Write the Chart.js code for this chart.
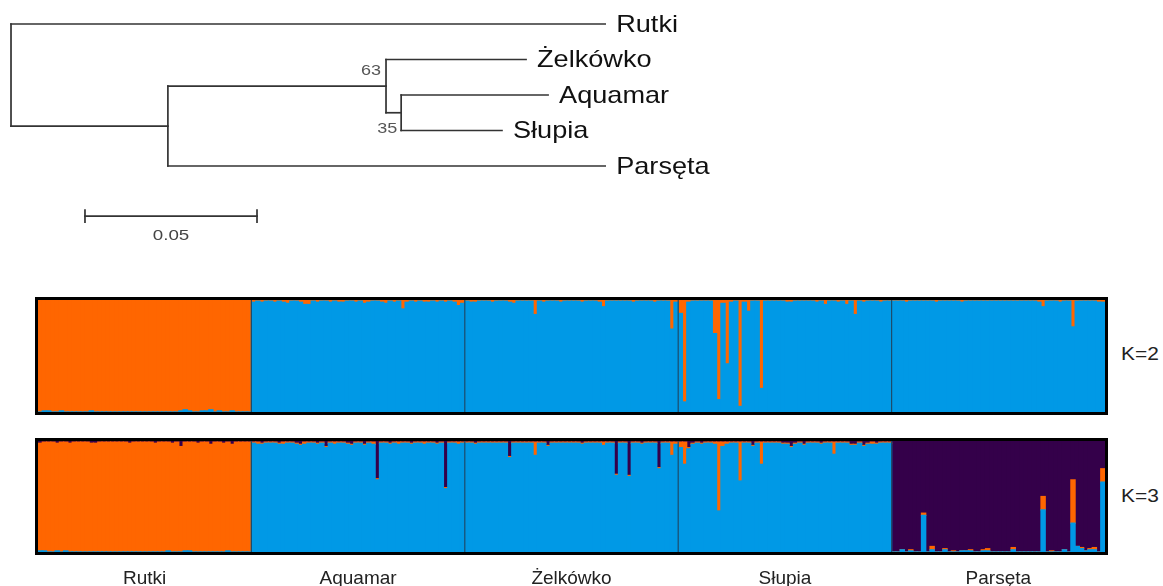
<!DOCTYPE html>
<html>
<head>
<meta charset="utf-8">
<script src="https://cdn.jsdelivr.net/npm/chart.js@4.4.1/dist/chart.umd.min.js"></script>
<style>
  html, body { margin: 0; padding: 0; background: #fff; }
  body { width: 1163px; height: 586px; position: relative; overflow: hidden;
         font-family: "Liberation Sans", Arial, sans-serif; }
  .box { position: absolute; }
  .k { position: absolute; font-size: 19px; color: #222; transform: scaleX(1.1); transform-origin: left center; }
</style>
</head>
<body>
<div class="box" style="left:0;top:0;width:760px;height:260px"><canvas id="tree"></canvas></div>
<div class="box" style="left:34px;top:296px;width:1075px;height:120px"><canvas id="k2"></canvas></div>
<div class="box" style="left:34px;top:437px;width:1075px;height:149px"><canvas id="k3"></canvas></div>
<div class="k" style="left:1121px;top:343px">K=2</div>
<div class="k" style="left:1121px;top:485px">K=3</div>

<script>
// ---- tree (distances from the root) ----
const taxa = ["Rutki", "Żelkówko", "Aquamar", "Słupia", "Parsęta"];
const tipRow = [1, 2, 3, 4, 5];
const tipDepth = [0.1727, 0.1497, 0.1561, 0.1427, 0.1727];
// root, (63,Parsęta), (Żelkówko,35), (Aquamar,Słupia)
const nodeDepth = [0, 0.0456, 0.1090, 0.1134];
const bootstrap = [63, 35];
const scaleBar = 0.05;

// ---- STRUCTURE memberships, 50 individuals per population ----
const pops = ["Rutki", "Aquamar", "Żelkówko", "Słupia", "Parsęta"];

// K=2 : orange cluster share (rest = blue)
const k2OrangeRutki = [1,0.99,0.99,1,1,0.99,1,1,1,1, 1,1,0.99,1,1,1,1,1,1,1, 1,1,1,1,1,1,1,1,1,1, 1,1,1,0.99,0.98,0.99,1,1,0.99,0.99, 0.98,1,0.99,1,1,0.99,1,1,1,1];
const k2OrangeAquamar = [0.02,0.01,0.02,0.01,0.01,0.02,0.01,0.02,0.03,0.01, 0.01,0.02,0.04,0.04,0.01,0.02,0.01,0.01,0.02,0.01, 0.02,0.02,0.01,0.01,0.02,0.01,0.03,0.02,0.01,0.01, 0.02,0.03,0.01,0.02,0.01,0.08,0.02,0.01,0.02,0.01, 0.02,0.02,0.01,0.02,0.01,0.02,0.01,0.02,0.05,0.03];
const k2OrangeZelkowko = [0.01,0.02,0.02,0.01,0.01,0.01,0.02,0.01,0.01,0.01, 0.02,0.03,0.01,0.01,0.01,0.01,0.13,0.01,0.02,0.01, 0.01,0.01,0.02,0.01,0.01,0.01,0.01,0.02,0.01,0.01, 0.01,0.02,0.06,0.01,0.01,0.01,0.01,0.01,0.01,0.02, 0.01,0.01,0.01,0.01,0.02,0.01,0.01,0.01,0.26,0.02];
const k2OrangeSlupia = [0.12,0.91,0.02,0.01,0.01,0.01,0.01,0.01,0.30,0.89, 0.03,0.57,0.02,0.01,0.95,0.02,0.10,0.01,0.01,0.79, 0.01,0.01,0.01,0.01,0.01,0.02,0.02,0.01,0.01,0.01, 0.01,0.01,0.02,0.01,0.04,0.01,0.01,0.02,0.01,0.04, 0.01,0.13,0.01,0.02,0.01,0.01,0.01,0.02,0.01,0.01];
const k2OrangeParseta = [0.01,0.01,0.01,0.02,0.01,0.01,0.01,0.01,0.01,0.01, 0.02,0.01,0.01,0.01,0.01,0.01,0.02,0.01,0.01,0.01, 0.01,0.01,0.01,0.01,0.01,0.01,0.01,0.01,0.01,0.01, 0.01,0.01,0.01,0.01,0.02,0.06,0.01,0.01,0.01,0.02, 0.01,0.01,0.24,0.01,0.01,0.01,0.01,0.01,0.02,0.02];

// K=3 : orange and dark purple shares (rest = blue)
const k3OrangeRutki = [0.97,0.98,0.99,0.99,0.97,0.99,0.98,0.98,0.99,0.99, 0.99,0.99,0.98,0.98,0.99,0.99,0.99,0.99,0.99,0.99, 0.99,0.98,0.99,0.99,0.99,0.99,0.99,0.98,0.99,0.99, 0.98,0.98,0.99,0.95,0.98,0.98,0.99,0.98,0.99,0.99, 0.97,0.99,0.99,0.98,0.98,0.97,0.99,0.99,0.99,0.99];
const k3PurpleRutki = [0.02,0.01,0.01,0.01,0.02,0.01,0.01,0.02,0.01,0.01, 0.01,0.01,0.02,0.02,0.01,0.01,0.01,0.01,0.01,0.01, 0.01,0.02,0.01,0.01,0.01,0.01,0.01,0.02,0.01,0.01, 0.01,0.02,0.01,0.05,0.01,0.01,0.01,0.02,0.01,0.01, 0.03,0.01,0.01,0.02,0.01,0.03,0.01,0.01,0.01,0.01];
const k3OrangeAquamar = [0.01,0.02,0.01,0.01,0.01,0.01,0.01,0.02,0.01,0.01, 0.01,0.01,0.02,0.01,0.01,0.01,0.01,0.01,0.01,0.02, 0.01,0.01,0.01,0.01,0.01,0.01,0.01,0.01,0.02,0.01, 0.01,0.01,0.01,0.01,0.02,0.01,0.01,0.01,0.01,0.01, 0.02,0.01,0.01,0.01,0.01,0.01,0.01,0.01,0.02,0.01];
const k3PurpleAquamar = [0.01,0.01,0.02,0.01,0.01,0.01,0.02,0.01,0.01,0.01, 0.02,0.03,0.01,0.01,0.01,0.02,0.01,0.05,0.01,0.01, 0.01,0.01,0.02,0.03,0.01,0.01,0.03,0.01,0.01,0.34, 0.01,0.01,0.02,0.01,0.01,0.01,0.01,0.02,0.01,0.01, 0.01,0.01,0.01,0.02,0.01,0.42,0.01,0.01,0.01,0.01];
const k3OrangeZelkowko = [0.01,0.01,0.01,0.01,0.01,0.01,0.01,0.01,0.01,0.01, 0.01,0.01,0.01,0.01,0.01,0.01,0.12,0.01,0.01,0.01, 0.01,0.01,0.01,0.01,0.01,0.01,0.01,0.01,0.01,0.01, 0.01,0.01,0.03,0.01,0.01,0.01,0.01,0.01,0.01,0.01, 0.01,0.01,0.01,0.01,0.01,0.01,0.01,0.01,0.12,0.02];
const k3PurpleZelkowko = [0.01,0.01,0.02,0.01,0.01,0.01,0.01,0.01,0.01,0.01, 0.14,0.01,0.01,0.01,0.01,0.01,0.01,0.01,0.01,0.04, 0.01,0.01,0.01,0.01,0.01,0.01,0.01,0.02,0.01,0.01, 0.01,0.01,0.01,0.01,0.01,0.30,0.01,0.01,0.31,0.01, 0.01,0.02,0.01,0.01,0.01,0.24,0.01,0.01,0.01,0.01];
const k3OrangeSlupia = [0.05,0.20,0.01,0.01,0.01,0.01,0.01,0.01,0.02,0.62, 0.04,0.02,0.01,0.01,0.35,0.01,0.01,0.01,0.01,0.20, 0.01,0.01,0.01,0.01,0.01,0.01,0.01,0.01,0.01,0.01, 0.01,0.01,0.01,0.01,0.01,0.01,0.11,0.01,0.01,0.01, 0.01,0.01,0.01,0.01,0.01,0.02,0.01,0.01,0.01,0.01];
const k3PurpleSlupia = [0.01,0.01,0.06,0.02,0.01,0.02,0.01,0.01,0.01,0.01, 0.01,0.01,0.01,0.01,0.01,0.01,0.01,0.04,0.01,0.01, 0.01,0.01,0.01,0.01,0.02,0.02,0.05,0.02,0.01,0.03, 0.01,0.01,0.01,0.02,0.01,0.01,0.01,0.01,0.01,0.01, 0.03,0.03,0.01,0.04,0.02,0.01,0.02,0.01,0.01,0.01];
const k3OrangeParseta = [0,0,0,0,0.01,0,0,0.02,0,0.03, 0,0,0.01,0,0.01,0,0,0,0.01,0, 0,0.01,0.02,0,0,0,0,0,0.02,0, 0,0,0,0,0,0.12,0,0.01,0,0, 0,0,0.39,0,0.01,0,0.01,0.02,0,0.12];
const k3PurpleParseta = [1,1,0.98,1,0.98,1,1,0.65,1,0.95, 1,1,0.97,1,0.99,1,0.99,0.99,0.98,1, 1,0.98,0.97,1,1,1,1,1,0.96,1, 1,1,1,1,1,0.50,1,0.99,1,1, 0.98,1,0.35,0.95,0.96,0.99,0.97,0.96,1,0.25];

const ORANGE = "#ff6600", BLUE = "#0099e6", PURPLE = "#34004a";
const FONT = "'Liberation Sans', Arial, sans-serif";

// ---------- tree ----------
const nodeRow = [];
nodeRow[3] = (tipRow[2] + tipRow[3]) / 2;
nodeRow[2] = (tipRow[1] + nodeRow[3]) / 2;
nodeRow[1] = (nodeRow[2] + tipRow[4]) / 2;
nodeRow[0] = (tipRow[0] + nodeRow[1]) / 2;

// each internal node: [child, child], child is ["t", i] for a tip or ["n", i]
const kids = [
  [["t", 0], ["n", 1]],
  [["n", 2], ["t", 4]],
  [["t", 1], ["n", 3]],
  [["t", 2], ["t", 3]]
];
const segs = [];
kids.forEach((pair, n) => {
  const d = nodeDepth[n];
  const pos = pair.map(([k, i]) => k === "t" ? [tipDepth[i], tipRow[i]] : [nodeDepth[i], nodeRow[i]]);
  segs.push([{ x: d, y: pos[0][1] }, { x: d, y: pos[1][1] }]);
  pos.forEach(p => segs.push([{ x: d, y: p[1] }, { x: p[0], y: p[1] }]));
});
const sbStart = 0.0215, sbRow = 6.41;
segs.push([{ x: sbStart, y: sbRow }, { x: sbStart + scaleBar, y: sbRow }]);
segs.push([{ x: sbStart, y: sbRow - 0.17 }, { x: sbStart, y: sbRow + 0.17 }]);
segs.push([{ x: sbStart + scaleBar, y: sbRow - 0.17 }, { x: sbStart + scaleBar, y: sbRow + 0.17 }]);

// text drawn a little wider, like the original figure
function wideText(ctx, s, px, py, sx) {
  ctx.save();
  ctx.translate(px, py);
  ctx.scale(sx, 1);
  ctx.fillText(s, 0, 0);
  ctx.restore();
}

const treeLabels = {
  id: "treeLabels",
  afterDatasetsDraw(chart) {
    const { ctx, scales: { x, y } } = chart;
    ctx.save();
    ctx.textBaseline = "middle";
    ctx.fillStyle = "#111";
    ctx.font = "24px " + FONT;
    taxa.forEach((t, i) => {
      wideText(ctx, t, x.getPixelForValue(tipDepth[i]) + 11, y.getPixelForValue(tipRow[i]) + 1, 1.13);
    });
    ctx.fillStyle = "#555";
    ctx.font = "15px " + FONT;
    ctx.textAlign = "right";
    wideText(ctx, String(bootstrap[0]), x.getPixelForValue(nodeDepth[2]) - 5, y.getPixelForValue(tipRow[1]) + 11, 1.2);
    wideText(ctx, String(bootstrap[1]), x.getPixelForValue(nodeDepth[3]) - 4, y.getPixelForValue(tipRow[3]) - 2, 1.2);
    ctx.textAlign = "center";
    ctx.fillStyle = "#444";
    wideText(ctx, String(scaleBar), x.getPixelForValue(sbStart + scaleBar / 2), y.getPixelForValue(sbRow) + 20, 1.25);
    ctx.restore();
  }
};

new Chart(document.getElementById("tree"), {
  type: "scatter",
  data: {
    datasets: segs.map(s => ({
      data: s, showLine: true, borderColor: "#333", borderWidth: 1.7,
      pointRadius: 0, borderCapStyle: "square"
    }))
  },
  options: {
    responsive: true, maintainAspectRatio: false, animation: false,
    layout: { padding: 0 },
    plugins: { legend: { display: false }, tooltip: { enabled: false } },
    scales: {
      x: { type: "linear", display: false, min: -0.0032, max: 0.2177 },
      y: { type: "linear", display: false, reverse: true, min: 0.324, max: 7.648 }
    }
  },
  plugins: [treeLabels]
});

// ---------- STRUCTURE bars ----------
const popSizes = [50, 50, 50, 50, 50];
const idx = [].concat(...popSizes.map((n, p) => Array.from({ length: n }, (_, i) => pops[p] + " " + (i + 1))));
const breaks = [];
popSizes.reduce((acc, n) => { acc += n; breaks.push(acc); return acc; }, 0);
breaks.pop();

const framePlugin = {
  id: "frame",
  afterDatasetsDraw(chart) {
    const { ctx, chartArea: a, scales: { x } } = chart;
    ctx.save();
    ctx.strokeStyle = "#1c4c6c";
    ctx.lineWidth = 1.2;
    breaks.forEach(b => {
      const px = (x.getPixelForValue(b - 1) + x.getPixelForValue(b)) / 2;
      ctx.beginPath();
      ctx.moveTo(px, a.top);
      ctx.lineTo(px, a.bottom);
      ctx.stroke();
    });
    ctx.strokeStyle = "#000";
    ctx.lineWidth = 3;
    ctx.strokeRect(a.left - 1.5, a.top - 1.5, a.right - a.left + 3, a.bottom - a.top + 3);
    ctx.restore();
  }
};

function barSet(values, color) {
  return { data: values, backgroundColor: color, borderWidth: 0,
           barPercentage: 1, categoryPercentage: 1, inflateAmount: 0.6 };
}

const k2Orange = [].concat(k2OrangeRutki, k2OrangeAquamar, k2OrangeZelkowko, k2OrangeSlupia, k2OrangeParseta);
const k3Orange = [].concat(k3OrangeRutki, k3OrangeAquamar, k3OrangeZelkowko, k3OrangeSlupia, k3OrangeParseta);
const k3Purple = [].concat(k3PurpleRutki, k3PurpleAquamar, k3PurpleZelkowko, k3PurpleSlupia, k3PurpleParseta);

function structureChart(id, datasets, withLabels) {
  const scales = {
    x: { stacked: true, display: false },
    y: { stacked: true, display: false, min: 0, max: 1 }
  };
  if (withLabels) {
    scales.x2 = {
      type: "category", labels: pops, position: "bottom", offset: true,
      grid: { display: false, drawTicks: false }, border: { display: false },
      ticks: { color: "#222", padding: 15, font: { size: 19, family: FONT } },
      afterFit: s => { s.height = 34; }
    };
  }
  new Chart(document.getElementById(id), {
    type: "bar",
    data: { labels: idx, datasets },
    options: {
      responsive: true, maintainAspectRatio: false, animation: false,
      layout: { padding: { left: 4, right: 4, top: 4, bottom: withLabels ? 0 : 4 } },
      plugins: { legend: { display: false }, tooltip: { enabled: false } },
      scales
    },
    plugins: [framePlugin]
  });
}

structureChart("k2", [
  barSet(k2Orange.map(v => 1 - v), BLUE),
  barSet(k2Orange, ORANGE)
], false);

structureChart("k3", [
  barSet(k3Orange.map((v, i) => Math.max(0, 1 - v - k3Purple[i])), BLUE),
  barSet(k3Orange, ORANGE),
  barSet(k3Purple, PURPLE)
], true);
</script>
</body>
</html>
